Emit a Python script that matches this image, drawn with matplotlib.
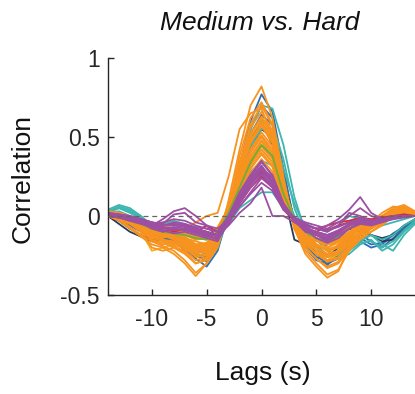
import numpy as np
import matplotlib
matplotlib.use("Agg")
from matplotlib import pyplot as plt

plt.rcParams['font.family'] = ['Liberation Sans', 'DejaVu Sans']

# lags in seconds
lags = np.arange(-14, 15)

# cross-correlation traces, grouped by colour
blue_lines = [
	[0.02,0.00,-0.04,-0.08,-0.12,-0.14,-0.16,-0.20,-0.27,-0.32,-0.22,0.02,0.32,0.60,0.77,0.66,0.30,-0.05,-0.20,-0.28,-0.30,-0.27,-0.18,-0.16,-0.20,-0.18,-0.12,-0.08,-0.04],
	[0.01,-0.02,-0.06,-0.10,-0.13,-0.12,-0.15,-0.22,-0.25,-0.28,-0.18,0.05,0.30,0.52,0.64,0.58,0.25,-0.05,-0.16,-0.24,-0.31,-0.25,-0.15,-0.12,-0.16,-0.20,-0.14,-0.08,-0.02],
	[0.01,-0.01,-0.05,-0.09,-0.12,-0.13,-0.15,-0.19,-0.24,-0.29,-0.20,0.03,0.29,0.55,0.70,0.62,0.28,-0.04,-0.18,-0.26,-0.29,-0.24,-0.16,-0.14,-0.18,-0.17,-0.11,-0.07,-0.03],
]
dark_lines = [
	[0.00,-0.05,-0.10,-0.13,-0.16,-0.15,-0.17,-0.20,-0.24,-0.26,-0.15,0.04,0.28,0.48,0.60,0.45,0.15,-0.15,-0.18,-0.22,-0.26,-0.20,-0.12,-0.08,-0.12,-0.16,-0.15,-0.09,-0.03],
	[0.00,-0.03,-0.08,-0.12,-0.15,-0.14,-0.12,-0.16,-0.20,-0.22,-0.14,0.03,0.24,0.44,0.55,0.50,0.22,-0.02,-0.15,-0.20,-0.18,-0.12,-0.08,-0.10,-0.12,-0.14,-0.12,-0.06,-0.02],
]
teal_lines = [
	[0.04,0.07,0.05,0.00,-0.08,-0.12,-0.14,-0.18,-0.24,-0.27,-0.20,0.00,0.28,0.55,0.70,0.68,0.45,0.12,-0.10,-0.18,-0.25,-0.27,-0.24,-0.18,-0.15,-0.22,-0.18,-0.10,-0.04],
	[0.03,0.06,0.04,0.00,-0.06,-0.10,-0.14,-0.16,-0.22,-0.24,-0.17,0.02,0.25,0.45,0.55,0.55,0.30,0.08,-0.08,-0.15,-0.22,-0.25,-0.20,-0.16,-0.12,-0.18,-0.22,-0.12,-0.05],
	[0.02,0.03,0.00,-0.03,-0.06,-0.05,-0.03,-0.05,-0.08,-0.10,-0.12,-0.05,0.05,0.10,0.15,0.15,0.05,-0.02,-0.05,-0.08,-0.10,-0.06,0.00,-0.02,-0.05,-0.06,-0.04,-0.02,0.00],
	[0.02,0.05,0.02,-0.02,-0.08,-0.10,-0.12,-0.14,-0.18,-0.22,-0.14,0.00,0.15,0.28,0.35,0.32,0.18,0.00,-0.10,-0.14,-0.18,-0.16,-0.12,-0.14,-0.12,-0.15,-0.12,-0.06,-0.02],
	[0.03,0.05,0.03,-0.01,-0.07,-0.11,-0.13,-0.15,-0.20,-0.25,-0.18,0.01,0.22,0.42,0.60,0.58,0.36,0.05,-0.12,-0.20,-0.26,-0.24,-0.22,-0.17,-0.16,-0.20,-0.16,-0.09,-0.03],
]
orange_lines = [
	[0.00,-0.03,-0.08,-0.13,-0.18,-0.20,-0.24,-0.30,-0.38,-0.30,-0.18,0.10,0.42,0.70,0.82,0.62,0.25,-0.08,-0.24,-0.32,-0.39,-0.35,-0.20,-0.10,-0.04,0.02,0.06,0.05,0.00],
	[0.01,-0.02,-0.07,-0.12,-0.16,-0.19,-0.22,-0.28,-0.36,-0.30,-0.20,0.05,0.38,0.62,0.72,0.58,0.22,-0.08,-0.22,-0.30,-0.37,-0.34,-0.22,-0.12,-0.06,0.00,0.04,0.06,0.02],
	[0.00,-0.02,-0.04,-0.08,-0.12,-0.14,-0.12,-0.08,-0.04,0.00,0.02,0.25,0.55,0.65,0.68,0.50,0.20,-0.08,-0.18,-0.24,-0.26,-0.22,-0.14,-0.08,-0.05,0.00,0.05,0.07,0.03],
	[0.02,0.00,-0.04,-0.10,-0.20,-0.22,-0.20,-0.22,-0.28,-0.26,-0.18,0.05,0.32,0.52,0.63,0.52,0.20,-0.04,-0.18,-0.24,-0.28,-0.26,-0.20,-0.14,-0.08,-0.04,0.02,0.04,0.01],
	[0.03,0.02,-0.02,-0.06,-0.16,-0.18,-0.17,-0.20,-0.24,-0.22,-0.12,0.08,0.30,0.50,0.60,0.48,0.18,-0.06,-0.16,-0.22,-0.26,-0.24,-0.18,-0.12,-0.10,-0.06,0.00,0.02,0.00],
	[0.01,-0.02,-0.05,-0.08,-0.12,-0.15,-0.18,-0.21,-0.25,-0.24,-0.15,0.04,0.26,0.46,0.57,0.46,0.17,-0.05,-0.15,-0.20,-0.24,-0.22,-0.16,-0.10,-0.06,-0.02,0.03,0.04,0.01],
	[0.02,0.01,-0.03,-0.06,-0.10,-0.12,-0.15,-0.18,-0.22,-0.22,-0.13,0.05,0.24,0.42,0.53,0.44,0.16,-0.04,-0.12,-0.18,-0.22,-0.20,-0.14,-0.08,-0.07,-0.04,0.01,0.03,0.00],
	[0.00,0.01,-0.02,-0.05,-0.08,-0.10,-0.12,-0.16,-0.20,-0.20,-0.10,0.06,0.22,0.40,0.50,0.40,0.14,-0.06,-0.14,-0.20,-0.24,-0.18,-0.12,-0.06,-0.04,0.00,0.04,0.03,0.00],
	[0.02,0.00,-0.02,-0.04,-0.07,-0.09,-0.10,-0.13,-0.18,-0.17,-0.10,0.04,0.20,0.36,0.47,0.38,0.12,-0.03,-0.10,-0.15,-0.20,-0.16,-0.10,-0.06,-0.06,-0.03,0.02,0.02,0.00],
	[0.01,-0.01,-0.03,-0.06,-0.09,-0.08,-0.11,-0.14,-0.16,-0.18,-0.12,0.02,0.18,0.34,0.44,0.36,0.12,-0.05,-0.12,-0.16,-0.18,-0.15,-0.12,-0.08,-0.05,-0.02,0.01,0.02,0.00],
	[0.03,0.01,-0.01,-0.03,-0.06,-0.08,-0.09,-0.12,-0.15,-0.14,-0.08,0.04,0.16,0.30,0.40,0.32,0.10,-0.02,-0.09,-0.14,-0.16,-0.14,-0.08,-0.04,-0.03,0.00,0.03,0.04,0.01],
	[0.00,-0.01,-0.02,-0.04,-0.07,-0.06,-0.08,-0.10,-0.13,-0.15,-0.10,0.02,0.14,0.27,0.36,0.28,0.09,-0.03,-0.08,-0.12,-0.15,-0.12,-0.07,-0.05,-0.04,-0.02,0.02,0.03,0.00],
	[0.01,0.00,-0.04,-0.09,-0.14,-0.16,-0.19,-0.23,-0.30,-0.28,-0.16,0.06,0.34,0.56,0.66,0.54,0.22,-0.05,-0.20,-0.27,-0.33,-0.30,-0.22,-0.15,-0.10,-0.05,0.00,0.03,0.01],
	[0.02,0.01,-0.03,-0.07,-0.11,-0.13,-0.14,-0.17,-0.21,-0.20,-0.12,0.03,0.21,0.38,0.48,0.40,0.14,-0.04,-0.13,-0.19,-0.21,-0.19,-0.15,-0.08,-0.06,-0.02,0.02,0.04,0.01],
	[0.01,0.00,-0.03,-0.07,-0.12,-0.15,-0.17,-0.20,-0.26,-0.25,-0.14,0.05,0.30,0.52,0.62,0.50,0.19,-0.05,-0.17,-0.24,-0.29,-0.27,-0.19,-0.12,-0.07,-0.03,0.02,0.05,0.01],
	[0.02,0.01,-0.02,-0.05,-0.09,-0.11,-0.13,-0.15,-0.19,-0.19,-0.11,0.04,0.23,0.41,0.51,0.42,0.15,-0.04,-0.13,-0.18,-0.22,-0.19,-0.13,-0.07,-0.05,-0.02,0.02,0.03,0.00],
	[0.00,-0.01,-0.04,-0.08,-0.13,-0.15,-0.16,-0.19,-0.23,-0.23,-0.14,0.04,0.27,0.47,0.58,0.47,0.18,-0.05,-0.16,-0.22,-0.25,-0.23,-0.17,-0.11,-0.08,-0.04,0.01,0.03,0.01],
	[0.03,0.02,0.00,-0.03,-0.06,-0.07,-0.09,-0.11,-0.14,-0.13,-0.07,0.05,0.18,0.32,0.42,0.34,0.11,-0.03,-0.10,-0.14,-0.17,-0.15,-0.10,-0.05,-0.04,-0.01,0.02,0.03,0.01],
	[0.01,0.00,-0.02,-0.05,-0.08,-0.10,-0.13,-0.17,-0.22,-0.21,-0.13,0.03,0.20,0.36,0.45,0.37,0.13,-0.04,-0.12,-0.18,-0.22,-0.20,-0.14,-0.08,-0.06,-0.03,0.01,0.02,0.00],
	[0.02,0.00,-0.03,-0.06,-0.10,-0.12,-0.13,-0.15,-0.18,-0.18,-0.11,0.02,0.16,0.30,0.39,0.31,0.10,-0.03,-0.10,-0.15,-0.18,-0.16,-0.11,-0.06,-0.05,-0.02,0.01,0.02,0.00],
	[0.01,-0.01,-0.05,-0.10,-0.15,-0.17,-0.20,-0.24,-0.30,-0.27,-0.17,0.04,0.33,0.58,0.70,0.57,0.22,-0.06,-0.20,-0.27,-0.32,-0.29,-0.20,-0.12,-0.07,-0.02,0.03,0.05,0.01],
]
gold_lines = [
	[0.03,0.01,-0.02,-0.10,-0.22,-0.20,-0.18,-0.18,-0.20,-0.18,-0.10,0.06,0.26,0.48,0.58,0.48,0.18,-0.04,-0.14,-0.22,-0.28,-0.24,-0.16,-0.10,-0.06,-0.02,0.03,0.06,0.02],
	[0.02,0.00,-0.02,-0.06,-0.10,-0.12,-0.14,-0.16,-0.20,-0.17,-0.10,0.03,0.17,0.33,0.42,0.34,0.12,-0.03,-0.12,-0.18,-0.20,-0.17,-0.12,-0.06,-0.04,-0.01,0.02,0.03,0.00],
]
green_lines = [
	[0.01,0.00,-0.03,-0.05,-0.08,-0.10,-0.11,-0.12,-0.14,-0.15,-0.10,0.02,0.18,0.34,0.45,0.38,0.14,-0.02,-0.10,-0.14,-0.16,-0.13,-0.08,-0.05,-0.04,-0.02,0.00,0.01,0.00],
]
red_lines = [
	[0.01,0.00,-0.01,-0.02,-0.04,-0.06,-0.05,-0.06,-0.08,-0.10,-0.12,-0.02,0.10,0.20,0.28,0.22,0.06,-0.03,-0.06,-0.08,-0.09,-0.06,-0.04,-0.02,-0.03,-0.02,0.00,0.01,0.00],
	[0.00,-0.01,-0.02,-0.04,-0.06,-0.07,-0.10,-0.08,-0.10,-0.06,-0.10,-0.04,0.08,0.18,0.25,0.18,0.04,-0.03,-0.08,-0.10,-0.06,-0.04,-0.03,-0.01,-0.02,-0.01,0.00,0.00,0.00],
]
purple_lines = [
	[0.01,0.00,-0.02,-0.04,-0.08,-0.10,-0.08,-0.06,-0.10,-0.12,-0.12,0.00,0.15,0.26,0.35,0.25,0.08,-0.02,-0.08,-0.12,-0.14,-0.10,-0.05,-0.02,-0.04,-0.03,-0.01,0.00,0.00],
	[0.00,-0.01,-0.03,-0.04,-0.06,-0.02,0.03,0.05,0.00,-0.06,-0.14,-0.03,0.12,0.24,0.32,0.22,0.06,-0.01,-0.06,-0.08,-0.10,-0.06,0.02,0.00,-0.03,-0.02,0.00,0.00,0.00],
	[0.02,0.00,-0.02,-0.03,-0.05,-0.04,-0.02,-0.03,-0.06,-0.08,-0.10,0.00,0.12,0.22,0.30,0.22,0.05,-0.02,-0.05,-0.08,-0.06,-0.02,0.04,0.12,0.02,-0.02,-0.01,0.00,0.00],
	[0.01,0.00,-0.02,-0.03,-0.05,-0.06,-0.05,-0.06,-0.08,-0.10,-0.12,-0.06,0.02,0.08,0.18,0.00,0.00,-0.04,-0.08,-0.10,-0.12,-0.10,-0.06,-0.04,-0.05,-0.03,-0.02,-0.01,0.00],
	[0.01,0.00,-0.01,-0.03,-0.06,-0.08,-0.07,-0.08,-0.10,-0.12,-0.15,-0.05,0.10,0.20,0.27,0.20,0.06,-0.03,-0.10,-0.12,-0.16,-0.12,-0.08,-0.05,-0.06,-0.04,-0.02,0.00,0.00],
	[0.00,0.01,0.00,-0.02,-0.04,-0.05,0.01,0.02,-0.04,-0.06,-0.08,-0.02,0.06,0.15,0.24,0.18,0.05,-0.01,-0.04,-0.06,-0.08,-0.04,0.00,0.05,0.00,-0.02,-0.01,0.00,0.00],
	[0.02,0.01,-0.01,-0.02,-0.04,-0.06,-0.04,-0.05,-0.07,-0.08,-0.10,-0.04,0.06,0.14,0.21,0.16,0.04,-0.02,-0.06,-0.08,-0.09,-0.07,-0.04,-0.02,-0.03,-0.02,-0.01,0.00,0.00],
	[0.00,-0.01,-0.03,-0.05,-0.07,-0.09,-0.11,-0.10,-0.12,-0.14,-0.16,-0.02,0.14,0.25,0.34,0.26,0.08,-0.02,-0.08,-0.14,-0.17,-0.14,-0.08,-0.04,-0.05,-0.03,-0.01,0.00,0.00],
	[0.01,0.00,-0.02,-0.04,-0.07,-0.08,-0.08,-0.09,-0.11,-0.13,-0.14,-0.03,0.12,0.23,0.31,0.24,0.07,-0.02,-0.07,-0.11,-0.13,-0.10,-0.06,-0.03,-0.04,-0.03,-0.01,0.00,0.00],
	[0.00,0.00,-0.01,-0.03,-0.05,-0.06,-0.06,-0.07,-0.09,-0.11,-0.13,-0.04,0.08,0.18,0.26,0.19,0.05,-0.02,-0.07,-0.10,-0.12,-0.09,-0.05,-0.03,-0.03,-0.02,-0.01,0.00,0.00],
	[0.02,0.01,0.00,-0.02,-0.05,-0.07,-0.09,-0.08,-0.10,-0.12,-0.15,-0.04,0.11,0.21,0.29,0.21,0.06,-0.03,-0.09,-0.12,-0.15,-0.11,-0.06,-0.01,-0.04,-0.02,-0.01,0.00,0.00],
]

# drawing order: first group ends up underneath
groups = [
	(blue_lines, "#2F6DB5"),
	(dark_lines, "#2B3A55"),
	(teal_lines, "#3EB6AF"),
	(gold_lines, "#F2B01E"),
	(orange_lines, "#F7931E"),
	(green_lines, "#6DAE3A"),
	(red_lines, "#D7263D"),
	(purple_lines, "#9D4FA3"),
]

fig = plt.figure(figsize=(4.15, 3.94), dpi=100)
ax = fig.add_axes([108/415, 99/394, 307/415, 237/394])

for lines, col in groups:
	for y in lines:
		ax.plot(lags, y, color=col, lw=1.3)

ax.axhline(0, color="#666666", ls="--", lw=0.9, dashes=(4, 3), zorder=5)

ax.set_xlim(-14, 14)
ax.set_ylim(-0.5, 1)
ax.set_xticks([-10, -5, 0, 5, 10])
ax.set_yticks([-0.5, 0, 0.5, 1])
ax.set_yticklabels(["-0.5", "0", "0.5", "1"])
ax.set_xticklabels(["-10", "-5", "0", "5", "10"])

for s in ["top", "right"]:
	ax.spines[s].set_visible(False)
for s in ["left", "bottom"]:
	ax.spines[s].set_color("#262626")
	ax.spines[s].set_linewidth(1.0)
ax.tick_params(direction="in", length=4, width=1.0, colors="#262626",
			labelsize=16.5, labelcolor="#262626")
ax.tick_params(axis="x", pad=9)
ax.tick_params(axis="y", pad=6)

ax.set_ylabel("Correlation", fontsize=19, color="#111111")
ax.yaxis.label.set_va("center")
ax.yaxis.set_label_coords(-0.277, 0.49)
ax.set_xlabel("Lags (s)", fontsize=19, color="#111111")
ax.xaxis.set_label_coords(0.505, -0.33)
ax.xaxis.label.set_va("center")
ax.text(0.495, 1.148, "Medium vs. Hard", transform=ax.transAxes,
		ha="center", va="center", fontsize=19, style="italic", color="#111111")

plt.savefig("out.png", dpi=100)
